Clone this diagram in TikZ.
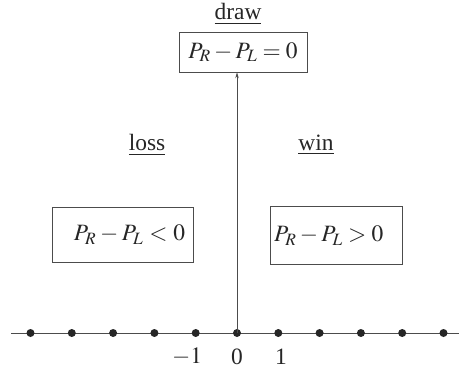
\documentclass[tikz,border=0pt]{standalone}
\usepackage{mathptmx}
\usepackage[no-math]{fontspec}
\setmainfont{Liberation Serif}
\usepackage{tikz}
\usetikzlibrary{positioning}
\usetikzlibrary{arrows.meta}

\begin{document}
\begin{tikzpicture}[
  x=0.03cm, y=-0.03cm,
  every node/.style={font=\fontsize{20}{24}\selectfont, text=black!85},
  % boxes holding the conditions
  condBox/.style={draw=black!70, line width=0.6pt, inner sep=0pt},
  outcomeLabel/.style={inner sep=1pt},
]

\tikzset{
  tickDot/.style={circle, fill=black!85, inner sep=0pt, minimum size=0.24cm},
  numLabel/.style={inner sep=0pt}
}

\useasboundingbox (0,0) rectangle (459,369);

% --- number line ---
\coordinate (axisLeft) at (11,333);
\coordinate (axisRight) at (459,333);
\draw[line width=0.6pt, black!70] (axisLeft) -- (axisRight);

\foreach \k in {-5,...,5} {
  \node[tickDot] (dot\k) at ({237+41.3*\k},333) {};
}

\node[numLabel] (numMinusOne) at (187,357) {$-1$};
\node[numLabel] (numZero) at (237,357) {0};
\node[numLabel] (numOne) at (281,357) {1};

% --- outcome boxes ---
\node[condBox, minimum width=3.84cm, minimum height=1.2cm] (drawBox) at (243,52) {$P_R - P_L = 0$};
\node[condBox, text width=3.75cm, align=right, minimum height=1.65cm, inner xsep=0.24cm] (lossBox) at (122.5,234.5) {$P_R - P_L < 0$};
\node[condBox, text width=3.72cm, align=left, minimum height=1.74cm, inner xsep=0.12cm] (winBox) at (336,235.5) {$P_R - P_L > 0$};

\node[outcomeLabel] (drawLabel) at (238,14) {\underline{draw}};
\node[outcomeLabel] (lossLabel) at (147,145) {\underline{loss}};
\node[outcomeLabel] (winLabel) at (316,145) {\underline{win}};

% --- vertical arrow from zero up to the draw box ---
\draw[line width=0.6pt, black!70, -{Stealth[length=5pt,width=3pt]}] (dot0.center) -- (dot0.center |- drawBox.south);

\end{tikzpicture}
\end{document}
